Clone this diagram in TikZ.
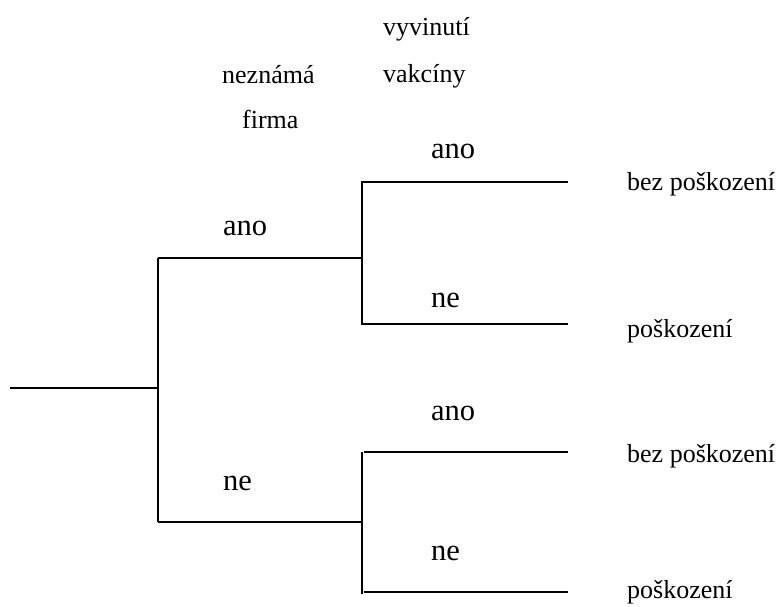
\documentclass[tikz,border=0pt]{standalone}
\usepackage{fontspec}
\setmainfont{Liberation Serif}
\begin{document}
\begin{tikzpicture}[x=1pt,y=-1pt,
  branch/.style={line width=1.8pt},
  small/.style={anchor=base west,inner sep=0pt,font=\fontsize{26}{30}\selectfont},
  big/.style={anchor=base west,inner sep=0pt,font=\fontsize{30.5}{34}\selectfont}]
\useasboundingbox (0,0) rectangle (780,606);
% junction coordinates
\coordinate (r0) at (10,388);
\coordinate (r1) at (158,388);
\coordinate (a1) at (158,258);
\coordinate (b1) at (158,522);
\coordinate (a2) at (362,258);
\coordinate (b2) at (362,522);
\coordinate (aT) at (362,182);
\coordinate (aB) at (362,324);
\coordinate (bT) at (362,452);
\coordinate (bB) at (362,594);
\coordinate (bTs) at (364,452);
\coordinate (bBs) at (364,592);
\coordinate (e1) at (568,182);
\coordinate (e2) at (568,324);
\coordinate (e3) at (568,452);
\coordinate (e4) at (568,592);
% branches
\draw[branch] (r0) -- (r1);
\draw[branch] (a1) -- (b1);
\draw[branch] (a1) -- (a2);
\draw[branch] (b1) -- (b2);
\draw[branch] (e1) -- (aT) -- (aB) -- (e2);
\draw[branch] (bT) -- (bB);
\draw[branch] (bTs) -- (e3);
\draw[branch] (bBs) -- (e4);
% headings
\node[small] (h1) at (383,35) {vyvinutí};
\node[small] (h2) at (383,82) {vakcíny};
\node[small] (h3) at (222,83) {neznámá};
\node[small] (h4) at (242,128) {firma};
% branch labels
\node[big] (l1) at (223,235) {ano};
\node[big] (l2) at (223,490) {ne};
\node[big] (l3) at (431,158) {ano};
\node[big] (l4) at (431,307) {ne};
\node[big] (l5) at (431,420) {ano};
\node[big] (l6) at (431,560) {ne};
% outcomes
\node[small] (o1) at (627,190) {bez poškození};
\node[small] (o2) at (627,337) {poškození};
\node[small] (o3) at (627,462) {bez poškození};
\node[small] (o4) at (627,598) {poškození};
\end{tikzpicture}
\end{document}
